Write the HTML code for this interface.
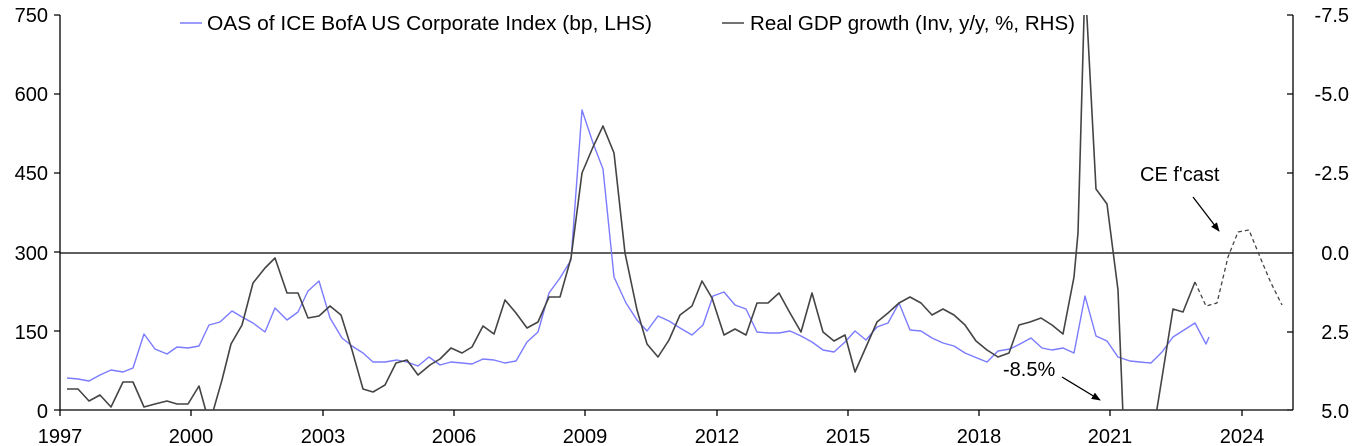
<!DOCTYPE html>
<html><head><meta charset="utf-8"><style>
html,body{margin:0;padding:0;background:#fff;}
svg{display:block;font-family:"Liberation Sans",Arial,sans-serif;}
</style></head><body>
<svg width="1354" height="446" viewBox="0 0 1354 446" xmlns="http://www.w3.org/2000/svg">
<defs>
<clipPath id="c"><rect x="60" y="15" width="1233" height="395"/></clipPath>
<marker id="ah" viewBox="0 0 10 10" refX="9" refY="5" markerWidth="7" markerHeight="7" orient="auto"><path d="M0,1 L10,5 L0,9 z" fill="#000"/></marker>
</defs>
<g font-size="20" fill="#000">
<text x="48" y="22" text-anchor="end">750</text>
<text x="48" y="101" text-anchor="end">600</text>
<text x="48" y="180" text-anchor="end">450</text>
<text x="48" y="260" text-anchor="end">300</text>
<text x="48" y="339" text-anchor="end">150</text>
<text x="48" y="418" text-anchor="end">0</text>
<text x="1349" y="22" text-anchor="end">-7.5</text>
<text x="1349" y="101" text-anchor="end">-5.0</text>
<text x="1349" y="180" text-anchor="end">-2.5</text>
<text x="1349" y="260" text-anchor="end">0.0</text>
<text x="1349" y="339" text-anchor="end">2.5</text>
<text x="1349" y="418" text-anchor="end">5.0</text>
<g text-anchor="middle">
<text x="60" y="443">1997</text><text x="191" y="443">2000</text><text x="323" y="443">2003</text>
<text x="454" y="443">2006</text><text x="585" y="443">2009</text><text x="717" y="443">2012</text>
<text x="848" y="443">2015</text><text x="979" y="443">2018</text><text x="1110" y="443">2021</text>
<text x="1242" y="443">2024</text>
</g>
</g>
<g stroke="#000" stroke-width="1.3" fill="none">
<line x1="60" y1="15" x2="60" y2="410"/>
<line x1="1293" y1="15" x2="1293" y2="410"/>
<line x1="54" y1="410" x2="1293" y2="410"/>
<line x1="60" y1="253" x2="1293" y2="253"/>
<path d="M54,15H60M54,94H60M54,173H60M54,252H60M54,331H60M1293,15H1287M1293,94H1287M1293,173H1287M1293,332H1287M1293,410H1287"/>
<path d="M60,410V416M191,410V416M323,410V416M454,410V416M585,410V416M717,410V416M848,410V416M979,410V416M1110,410V416M1242,410V416"/>
</g>
<g clip-path="url(#c)" fill="none" stroke-linejoin="round">
<polyline stroke="#7b7bff" stroke-width="1.4" points="67,378 78,379 89,381 100,375 111,370 123,372 133,368 144,334 155,349 167,354 177,347 188,348 199,346 209,325 220,322 232,311 242,317 253,323 265,332 275,308 287,320 298,312 308,291 319,281 330,318 342,338 352,346 363,353 373,362 385,362 397,360 407,362 418,366 429,357 440,365 451,362 462,363 472,364 483,359 494,360 505,363 516,361 527,342 538,332 549,293 560,278 571,260 582,110 593,143 603,169 614,277 626,303 637,320 647,331 658,316 669,321 680,328 692,335 703,325 713,296 724,292 735,305 746,309 757,332 768,333 779,333 790,331 801,336 812,342 823,350 834,352 845,342 855,331 866,340 877,327 888,323 899,303 910,330 921,331 932,338 943,343 954,346 965,353 977,358 987,362 998,351 1010,349 1020,344 1031,338 1042,348 1052,350 1063,348 1074,353 1085,296 1096,336 1107,341 1118,357 1130,361 1140,362 1151,363 1162,352 1173,337 1184,330 1195,323 1206,344 1209,337"/>
<polyline stroke="#444" stroke-width="1.6" points="67,389 78,389 89,401 100,395 111,407 123,382 133,382 144,407 155,404 167,401 177,404 188,404 199,386 207,415 212,415 222,380 231,344 242,325 253,283 265,268 275,258 287,293 298,293 308,318 319,316 330,306 341,315 352,350 363,389 373,392 385,385 396,363 407,360 418,375 430,365 440,359 451,348 462,353 472,347 483,326 494,334 505,300 516,313 527,328 538,322 549,297 560,297 571,258 582,173 593,147 603,126 614,153 625,253 637,310 647,344 658,357 669,340 680,315 692,306 702,281 712,298 724,335 735,329 746,335 757,303 768,303 779,293 790,313 801,332 812,293 823,332 834,341 845,335 855,372 866,347 877,322 888,313 899,303 910,297 921,303 932,315 943,309 954,315 965,325 976,341 987,350 998,357 1009,353 1019,325 1030,322 1041,318 1052,325 1063,334 1074,277 1078,233 1085,-20 1096,189 1107,204 1118,290 1124,440 1152,440 1173,309 1183,312 1195,282"/>
<polyline stroke="#444" stroke-width="1.3" stroke-dasharray="4,3" points="1195,282 1206,306 1217,303 1228,257 1238,232 1249,230 1260,257 1271,283 1282,305"/>
</g>
<line x1="1193" y1="197" x2="1219" y2="231" stroke="#000" stroke-width="1.3" marker-end="url(#ah)"/>
<line x1="1062" y1="377" x2="1100" y2="400" stroke="#000" stroke-width="1.3" marker-end="url(#ah)"/>
<g font-size="20" fill="#000">
<text x="1140" y="181">CE f'cast</text>
<text x="1003" y="376">-8.5%</text>
</g>
<line x1="180" y1="23" x2="202" y2="23" stroke="#7b7bff" stroke-width="1.5"/>
<text x="207" y="30" font-size="20.5" textLength="445" lengthAdjust="spacingAndGlyphs">OAS of ICE BofA US Corporate Index (bp, LHS)</text>
<line x1="722" y1="23" x2="744" y2="23" stroke="#444" stroke-width="1.6"/>
<text x="750" y="30" font-size="20.5" textLength="325" lengthAdjust="spacingAndGlyphs">Real GDP growth (Inv, y/y, %, RHS)</text>
</svg>
</body></html>
